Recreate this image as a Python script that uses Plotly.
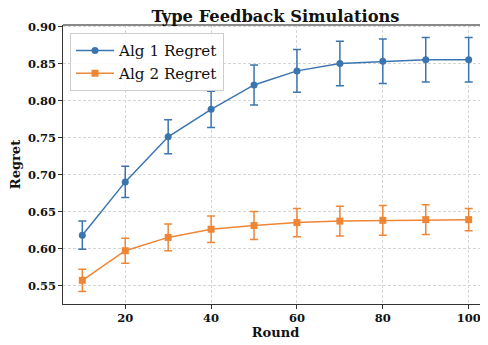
import plotly.graph_objects as go

rounds = [10, 20, 30, 40, 50, 60, 70, 80, 90, 100]
alg1_mean = [0.618, 0.690, 0.751, 0.788, 0.821, 0.840, 0.850, 0.853, 0.855, 0.855]
alg1_err = [0.019, 0.021, 0.023, 0.0245, 0.027, 0.029, 0.030, 0.030, 0.030, 0.030]
alg2_mean = [0.557, 0.597, 0.615, 0.626, 0.631, 0.635, 0.637, 0.638, 0.639, 0.639]
alg2_err = [0.015, 0.017, 0.018, 0.018, 0.019, 0.019, 0.020, 0.020, 0.020, 0.015]

x_ticks = [20, 40, 60, 80, 100]
y_ticks = [0.55, 0.60, 0.65, 0.70, 0.75, 0.80, 0.85, 0.90]

BLUE = "#3b75af"
ORANGE = "#ef8636"
SERIF = "DejaVu Serif"

fig = go.Figure()
for name, y, e, col, sym in [
    ("Alg 1 Regret", alg1_mean, alg1_err, BLUE, "circle"),
    ("Alg 2 Regret", alg2_mean, alg2_err, ORANGE, "square"),
]:
    fig.add_trace(go.Scatter(
        x=rounds, y=y, name=name, mode="lines+markers",
        line=dict(color=col, width=1.5),
        marker=dict(color=col, size=7, symbol=sym),
        error_y=dict(type="data", array=e, visible=True, color=col,
                     thickness=1.5, width=4),
    ))

# page body has an 8px margin, so the figure is sized 8px smaller
fig.update_layout(
    width=480, height=337,
    margin=dict(l=55, r=0, t=17, b=41, autoexpand=False),
    plot_bgcolor="white", paper_bgcolor="white",
    title=dict(text="<b>Type Feedback Simulations</b>", x=0.5, xref="paper",
               y=1.0, yref="paper", yanchor="bottom", automargin=False,
               pad=dict(b=3),
               font=dict(family=SERIF, size=16.3, color="#111")),
    legend=dict(x=0.0165, y=0.971, xanchor="left", yanchor="top",
                bgcolor="rgba(255,255,255,0.85)", bordercolor="#cccccc",
                borderwidth=1, font=dict(family=SERIF, size=15.2, color="#111"),
                tracegroupgap=0, itemwidth=38),
    showlegend=True,
)
grid = dict(showgrid=True, gridcolor="#d6d6d6", griddash="3px,2px", gridwidth=0.8)
fig.update_xaxes(
    range=[5.5, 104.5], tickvals=x_ticks, ticktext=[f"<b>{v}</b>" for v in x_ticks],
    showline=True, linecolor="#333", linewidth=1.2, automargin=False,
    ticks="outside", ticklen=3.5, tickcolor="#333", tickwidth=1,
    zeroline=False, **grid,
    tickfont=dict(family=SERIF, size=11.5, color="#111"),
    title=dict(text="<b>Round</b>", font=dict(family=SERIF, size=13, color="#111"), standoff=1),
)
fig.update_yaxes(
    range=[0.525, 0.902], tickvals=y_ticks, ticktext=[f"<b>{v:.2f}</b>" for v in y_ticks],
    showline=True, linecolor="#333", linewidth=1.2, automargin=False,
    ticks="outside", ticklen=3.5, tickcolor="#333", tickwidth=1,
    zeroline=False, **grid,
    tickfont=dict(family=SERIF, size=11.5, color="#111"),
    title=dict(text="<b>Regret</b>", font=dict(family=SERIF, size=13, color="#111"), standoff=6),
)
fig.add_shape(type="line", xref="paper", yref="paper", x0=0, x1=1, y0=1, y1=1,
              line=dict(color="#8a8a8a", width=2))

fig.write_html("out.html")
